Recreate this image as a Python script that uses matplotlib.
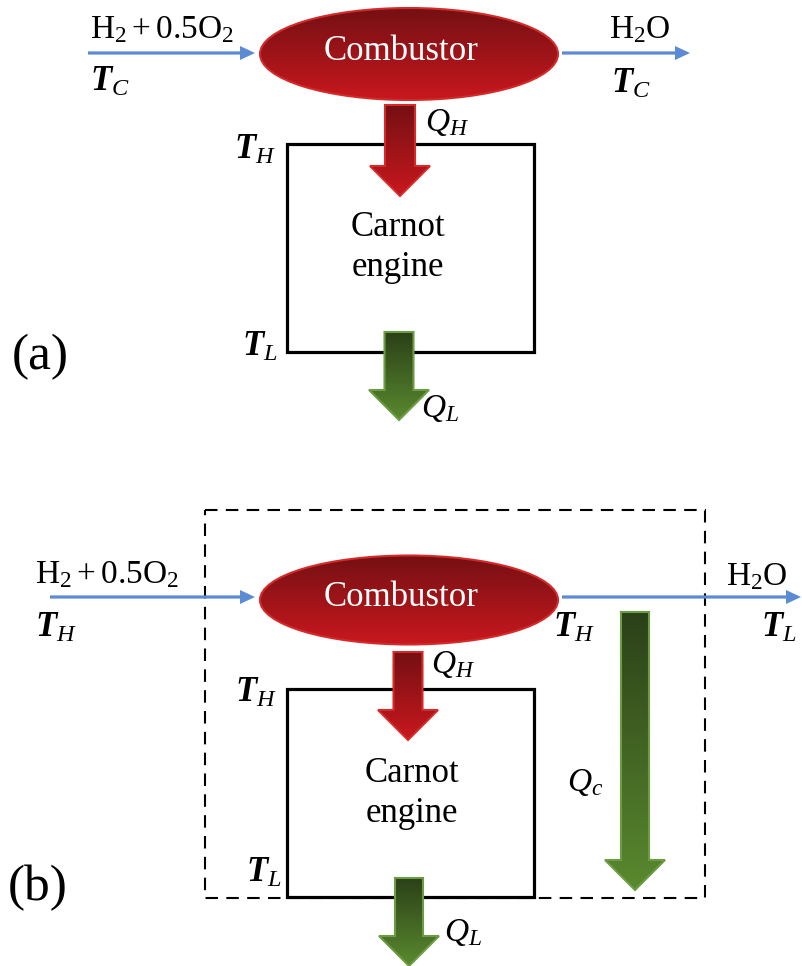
import numpy as np
import matplotlib.pyplot as plt
from matplotlib.patches import Ellipse, Rectangle, FancyArrow
from matplotlib.colors import LinearSegmentedColormap

plt.rcParams['font.family'] = ['Liberation Serif', 'DejaVu Serif']
plt.rcParams['mathtext.fontset'] = 'custom'
plt.rcParams['mathtext.rm'] = 'Liberation Serif'
plt.rcParams['mathtext.it'] = 'Liberation Serif:italic'
plt.rcParams['mathtext.bf'] = 'Liberation Serif:bold:italic'

# labels
panel_labels = ['(a)', '(b)']
reactant = r'$\mathrm{H_2 + 0.5O_2}$'
product = r'$\mathrm{H_2O}$'
combustor = 'Combustor'
engine = ['Carnot', 'engine']
t_labels_a = [r'$\mathbf{T}_C$', r'$\mathbf{T}_C$', r'$\mathbf{T}_H$', r'$\mathbf{T}_L$']
t_labels_b = [r'$\mathbf{T}_H$', r'$\mathbf{T}_H$', r'$\mathbf{T}_L$', r'$\mathbf{T}_H$', r'$\mathbf{T}_L$']
q_labels = [r'$Q_H$', r'$Q_L$', r'$Q_c$']

BLUE = '#5b8bd3'
reds = LinearSegmentedColormap.from_list('reds', ['#741013', '#c8181e'])
greens = LinearSegmentedColormap.from_list('greens', ['#2b4018', '#5a8a2f'])
grad = np.linspace(0, 1, 256).reshape(-1, 1)

fig = plt.figure(figsize=(8.02, 9.66), dpi=100)
ax = fig.add_axes([0, 0, 1, 1])


def grad_patch(patch, cmap, edge):
    ax.add_patch(patch)
    patch.set_facecolor('none')
    patch.set_edgecolor(edge)
    x0, y0, x1, y1 = patch.get_path().transformed(patch.get_patch_transform()).get_extents().extents
    im = ax.imshow(grad, cmap=cmap, extent=(x0, x1, y1, y0), origin='upper',
                   aspect='auto', zorder=patch.get_zorder() - 0.1)
    im.set_clip_path(patch)


def heat_arrow(xc, ytop, ytip, width, cmap, edge):
    a = FancyArrow(xc, ytop, 0, ytip - ytop, width=width, head_width=60,
                   head_length=30, length_includes_head=True, lw=1.5, zorder=4)
    grad_patch(a, cmap, edge)


def flow_arrow(x0, x1, y):
    ax.add_patch(FancyArrow(x0, y, x1 - x0, 0, width=3.2, head_width=14, head_length=15,
                            length_includes_head=True, color=BLUE, lw=0, zorder=3))


def combustor_at(xc, yc, h):
    e = Ellipse((xc, yc), 298, h, lw=1.5, zorder=5)
    grad_patch(e, reds, '#d42a2a')
    ax.text(xc - 8, yc - 3, combustor, color='white', fontsize=25, ha='center', va='center', zorder=6)


def engine_text(xc, y1, y2):
    ax.text(xc, y1, engine[0], fontsize=25, ha='center', va='center')
    ax.text(xc, y2, engine[1], fontsize=25, ha='center', va='center')


# ---- panel (a)
flow_arrow(88, 255, 53)
flow_arrow(562, 690, 53)
combustor_at(409, 54, 92)
ax.text(162, 30, reactant, fontsize=24, ha='center', va='center')
ax.text(640, 30, product, fontsize=24, ha='center', va='center')
ax.text(110, 82, t_labels_a[0], fontsize=25, ha='center', va='center')
ax.text(631, 84, t_labels_a[1], fontsize=25, ha='center', va='center')
ax.add_patch(Rectangle((287, 144), 247, 208, fill=False, lw=2.3, ec='black', zorder=3))
heat_arrow(400, 105, 196, 30, reds, '#d42a2a')
heat_arrow(399, 332, 420, 29, greens, '#6c9c44')
ax.text(447, 122, q_labels[0], fontsize=24, ha='center', va='center')
ax.text(440, 408, q_labels[1], fontsize=24, ha='center', va='center')
ax.text(255, 150, t_labels_a[2], fontsize=25, ha='center', va='center')
ax.text(260, 347, t_labels_a[3], fontsize=25, ha='center', va='center')
engine_text(398, 228, 267)
ax.text(40, 357, panel_labels[0], fontsize=37, ha='center', va='center')

# ---- panel (b)
ax.add_patch(Rectangle((205, 510), 500, 388, fill=False, lw=1.5, ec='black',
                       ls=(0, (6, 4)), zorder=2))
flow_arrow(50, 255, 597)
flow_arrow(562, 801, 597)
combustor_at(409, 600, 89)
ax.text(107, 575, reactant, fontsize=24, ha='center', va='center')
ax.text(757, 577, product, fontsize=24, ha='center', va='center')
ax.text(56, 628, t_labels_b[0], fontsize=25, ha='center', va='center')
ax.text(574, 628, t_labels_b[1], fontsize=25, ha='center', va='center')
ax.text(779, 628, t_labels_b[2], fontsize=25, ha='center', va='center')
ax.add_patch(Rectangle((287, 689), 247, 208, fill=False, lw=2.3, ec='black', zorder=3))
heat_arrow(408, 652, 740, 29, reds, '#d42a2a')
heat_arrow(409, 878, 966, 28, greens, '#6c9c44')
heat_arrow(635, 612, 890, 28, greens, '#6c9c44')
ax.text(453, 665, q_labels[0], fontsize=24, ha='center', va='center')
ax.text(463, 933, q_labels[1], fontsize=24, ha='center', va='center')
ax.text(585, 783, q_labels[2], fontsize=24, ha='center', va='center')
ax.text(256, 693, t_labels_b[3], fontsize=25, ha='center', va='center')
ax.text(264, 873, t_labels_b[4], fontsize=25, ha='center', va='center')
engine_text(412, 773, 813)
ax.text(38, 888, panel_labels[1], fontsize=37, ha='center', va='center')

ax.set_xlim(0, 802)
ax.set_ylim(966, 0)
ax.set_axis_off()

fig.savefig('out.png', dpi=100)
